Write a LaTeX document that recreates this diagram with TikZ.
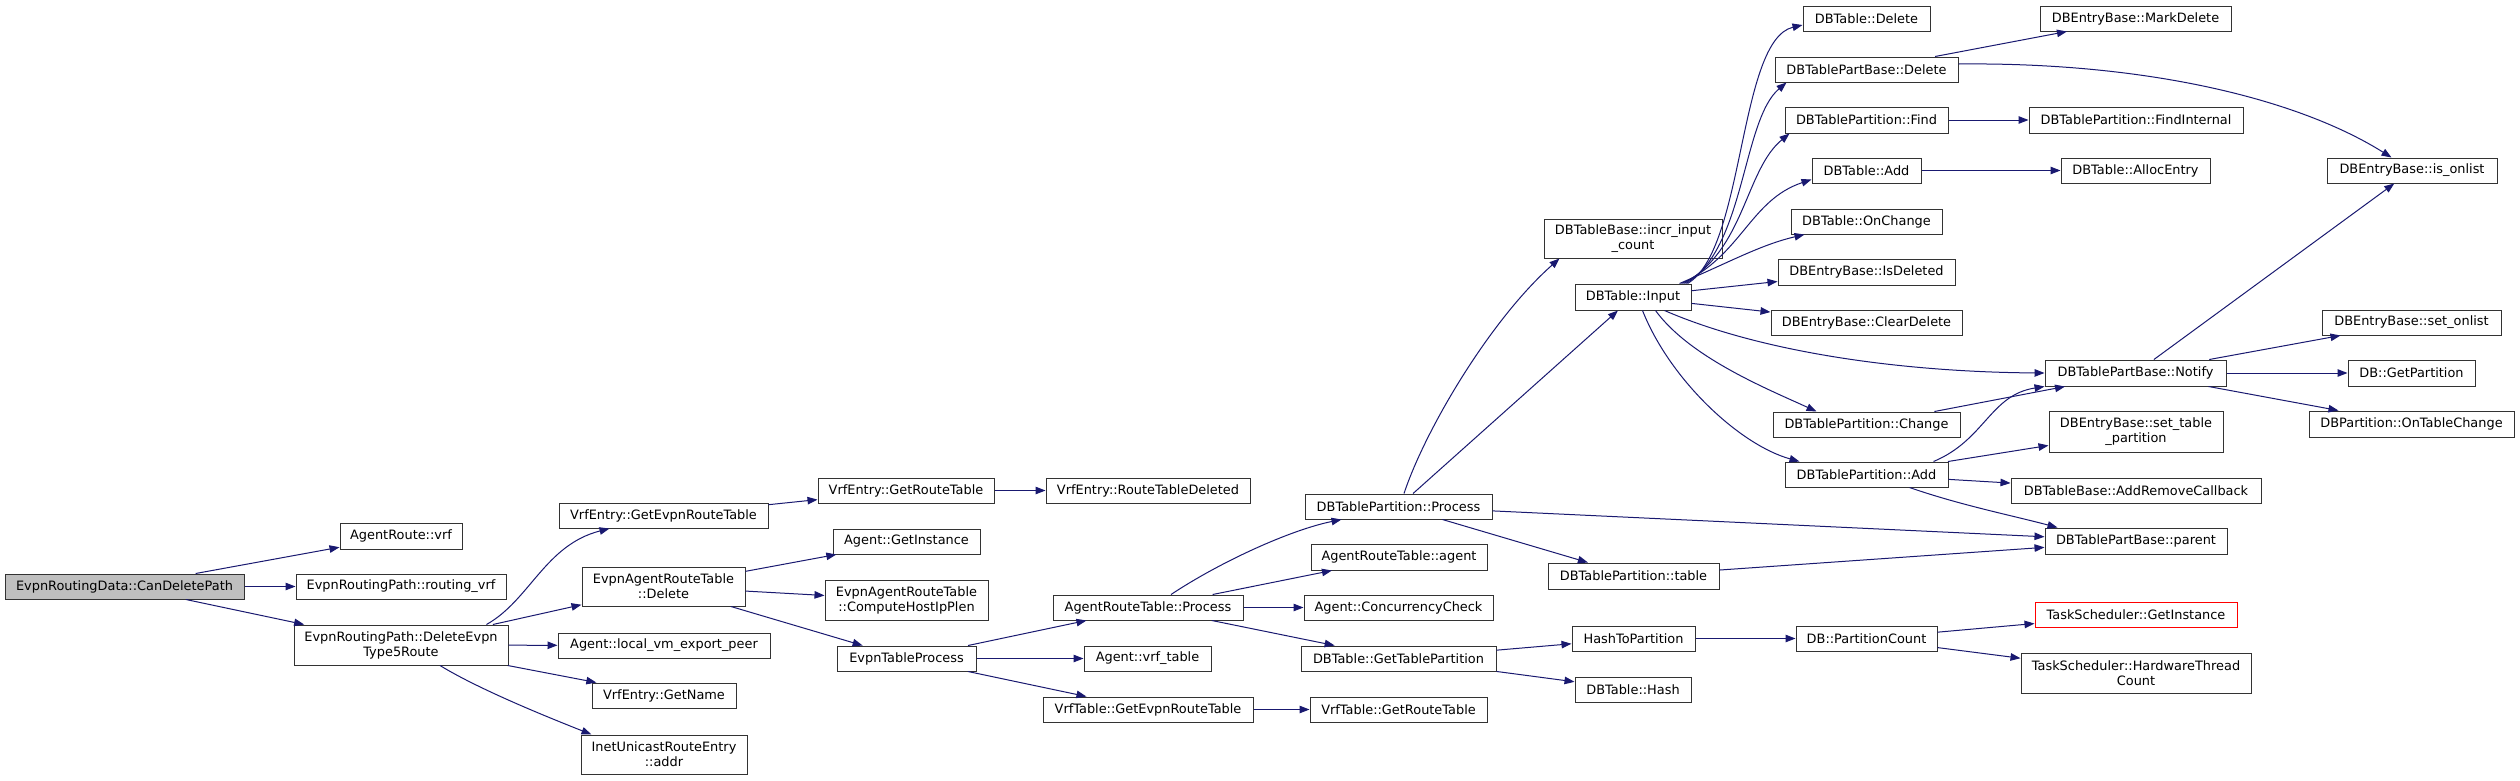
\documentclass[tikz,border=0pt]{standalone}
\usepackage{fontspec}
\setmainfont{DejaVu Sans}
\usetikzlibrary{arrows.meta,calc}
\definecolor{edgecol}{HTML}{191970}
\definecolor{boxcol}{HTML}{333333}
\tikzset{
  box/.style={draw=boxcol, line width=1pt, fill=white, inner sep=0pt, align=center,
    font=\fontsize{12.9}{15}\selectfont},
  conn/.style={draw=edgecol, line width=1pt, -{Triangle[length=10pt,width=7.5pt]}},
}
\newcommand\bx[7][]{\node[box,#1,minimum width={(#5-#3)*1pt},minimum height={(#6-#4)*1pt}] (#2) at ({(#3+#5)/2},{(#4+#6)/2}) {#7};}
\begin{document}
\begin{tikzpicture}[x=1pt,y=-1pt]
\fill[white] (0,0) rectangle (2520,780);
\useasboundingbox (0,0) rectangle (2520,780);
% column 0-1
\bx[fill=black!25]{c0}{5}{574}{244}{599}{EvpnRoutingData::CanDeletePath}
\bx{arv}{340}{523}{462}{549}{AgentRoute::vrf}
\bx{rvrf}{296}{574}{506}{599}{EvpnRoutingPath::routing\_vrf}
\bx{d5}{294}{625}{508}{665}{EvpnRoutingPath::DeleteEvpn\\Type5Route}
% column 2
\bx{vge}{559}{503}{768}{528}{VrfEntry::GetEvpnRouteTable}
\bx{ead}{582}{567}{745}{606}{EvpnAgentRouteTable\\::Delete}
\bx{lvm}{558}{633}{770}{658}{Agent::local\_vm\_export\_peer}
\bx{vgn}{592}{683}{736}{708}{VrfEntry::GetName}
\bx{inet}{581}{735}{747}{774}{InetUnicastRouteEntry\\::addr}
% column 3
\bx{vgr}{818}{478}{994}{503}{VrfEntry::GetRouteTable}
\bx{agi}{833}{529}{980}{554}{Agent::GetInstance}
\bx{chp}{825}{580}{988}{620}{EvpnAgentRouteTable\\::ComputeHostIpPlen}
\bx{etp}{837}{646}{976}{671}{EvpnTableProcess}
% column 4
\bx{vrtd}{1046}{478}{1250}{503}{VrfEntry::RouteTableDeleted}
\bx{arp}{1053}{595}{1243}{620}{AgentRouteTable::Process}
\bx{avt}{1084}{646}{1211}{671}{Agent::vrf\_table}
\bx{vtg}{1043}{697}{1253}{722}{VrfTable::GetEvpnRouteTable}
% column 5
\bx{dtpp}{1305}{494}{1492}{519}{DBTablePartition::Process}
\bx{arta}{1311}{544}{1487}{570}{AgentRouteTable::agent}
\bx{acc}{1304}{595}{1493}{620}{Agent::ConcurrencyCheck}
\bx{dgtp}{1301}{646}{1496}{671}{DBTable::GetTablePartition}
\bx{vtr}{1310}{697}{1487}{722}{VrfTable::GetRouteTable}
% column 6
\bx{incr}{1544}{219}{1722}{258}{DBTableBase::incr\_input\\\_count}
\bx{dti}{1575}{284}{1691}{310}{DBTable::Input}
\bx{tbl}{1548}{563}{1719}{589}{DBTablePartition::table}
\bx{h2p}{1572}{626}{1695}{651}{HashToPartition}
\bx{hash}{1575}{677}{1691}{702}{DBTable::Hash}
% column 7
\bx{dbdel}{1803}{6}{1930}{31}{DBTable::Delete}
\bx{dpbd}{1775}{57}{1958}{82}{DBTablePartBase::Delete}
\bx{find}{1785}{107}{1948}{133}{DBTablePartition::Find}
\bx{dbadd}{1812}{158}{1921}{183}{DBTable::Add}
\bx{onch}{1791}{209}{1942}{234}{DBTable::OnChange}
\bx{isdel}{1778}{259}{1955}{285}{DBEntryBase::IsDeleted}
\bx{clrdel}{1771}{310}{1962}{335}{DBEntryBase::ClearDelete}
\bx{dtpc}{1773}{412}{1960}{437}{DBTablePartition::Change}
\bx{dtpa}{1785}{462}{1948}{487}{DBTablePartition::Add}
\bx{dpc}{1796}{626}{1937}{651}{DB::PartitionCount}
% column 8
\bx{mdel}{2040}{6}{2231}{31}{DBEntryBase::MarkDelete}
\bx{fint}{2029}{107}{2243}{133}{DBTablePartition::FindInternal}
\bx{alloc}{2061}{158}{2210}{183}{DBTable::AllocEntry}
\bx{dpbn}{2045}{360}{2226}{386}{DBTablePartBase::Notify}
\bx{stp}{2049}{411}{2223}{452}{DBEntryBase::set\_table\\\_partition}
\bx{arc}{2011}{478}{2261}{503}{DBTableBase::AddRemoveCallback}
\bx{dpbp}{2045}{528}{2227}{554}{DBTablePartBase::parent}
\bx[draw=red]{tsgi}{2035}{602}{2237}{627}{TaskScheduler::GetInstance}
\bx{hwtc}{2021}{653}{2251}{693}{TaskScheduler::HardwareThread\\Count}
% column 9
\bx{deio}{2327}{158}{2497}{183}{DBEntryBase::is\_onlist}
\bx{seto}{2322}{310}{2501}{335}{DBEntryBase::set\_onlist}
\bx{dbgp}{2348}{360}{2475}{386}{DB::GetPartition}
\bx{dpotc}{2309}{411}{2514}{437}{DBPartition::OnTableChange}

% edges
\draw[conn] (c0) -- (arv);
\draw[conn] (c0) -- (rvrf);
\draw[conn] (c0) -- (d5);
\draw[conn] ($(d5.north east)+(-22,0)$) .. controls (530,600) and (545,545) .. ($(vge.south west)+(51,0)$);
\draw[conn] (d5) -- (ead);
\draw[conn] (d5) -- (lvm);
\draw[conn] (d5) -- (vgn);
\draw[conn] ($(d5.south)+(39,0)$) .. controls (480,690) and (550,718) .. ($(inet.north west)+(11,0)$);
\draw[conn] (vge) -- (vgr);
\draw[conn] (vgr) -- (vrtd);
\draw[conn] (ead) -- (agi);
\draw[conn] (ead) -- (chp);
\draw[conn] (ead) -- (etp);
\draw[conn] (etp) -- (arp);
\draw[conn] (etp) -- (avt);
\draw[conn] (etp) -- (vtg);
\draw[conn] (vtg) -- (vtr);
\draw[conn] ($(arp.north)+(23,0)$) .. controls (1220,562) and (1290,530) .. ($(dtpp.south west)+(37,0)$);
\draw[conn] (arp) -- (arta);
\draw[conn] (arp) -- (acc);
\draw[conn] (arp) -- (dgtp);
\draw[conn] (dgtp) -- (h2p);
\draw[conn] (dgtp) -- (hash);
\draw[conn] (h2p) -- (dpc);
\draw[conn] (dpc) -- (tsgi);
\draw[conn] (dpc) -- (hwtc);
\draw[conn] ($(dtpp.north)+(5.5,0)$) .. controls (1425,430) and (1490,320) .. ($(incr.south west)+(16,0)$);
\draw[conn] (dtpp) -- (dti);
\draw[conn] (dtpp) -- (tbl);
\draw[conn] (dtpp) -- (dpbp);
\draw[conn] (tbl) -- (dpbp);
% DBTable::Input fan
\draw[conn] ($(dti.north east)+(-4,0)$) .. controls (1745,250) and (1738,40) .. ($(dbdel.west)+(0,6.5)$);
\draw[conn] ($(dti.north east)+(-6,0)$) .. controls (1745,250) and (1742,120) .. ($(dpbd.south west)+(12,0)$);
\draw[conn] ($(dti.north east)+(-8,0)$) .. controls (1745,250) and (1745,170) .. ($(find.south west)+(5,0)$);
\draw[conn] ($(dti.north east)+(-10,0)$) .. controls (1742,255) and (1750,200) .. ($(dbadd.west)+(0,9)$);
\draw[conn] ($(dti.north east)+(-12,0)$) .. controls (1730,262) and (1760,245) .. ($(onch.south west)+(14,0)$);
\draw[conn] (dti) -- (isdel);
\draw[conn] (dti) -- (clrdel);
\draw[conn] ($(dti.south west)+(90,0)$) .. controls (1760,352) and (1900,372) .. (dpbn.west);
\draw[conn] ($(dti.south west)+(81,0)$) .. controls (1690,358) and (1770,390) .. ($(dtpc.north west)+(44,0)$);
\draw[conn] ($(dti.south west)+(68,0)$) .. controls (1670,380) and (1740,445) .. ($(dtpa.north west)+(15,0)$);
% right part
\draw[conn] (dpbd) -- (mdel);
\draw[conn] ($(dpbd.east)+(0,-5.5)$) .. controls (2150,62) and (2300,100) .. ($(deio.north west)+(65,0)$);
\draw[conn] (find) -- (fint);
\draw[conn] (dbadd) -- (alloc);
\draw[conn] (dtpc) -- (dpbn);
\draw[conn] ($(dtpa.north east)+(-15,0)$) .. controls (1985,440) and (1990,395) .. (dpbn.south west);
\draw[conn] (dtpa) -- (stp);
\draw[conn] (dtpa) -- (arc);
\draw[conn] ($(dtpa.south east)+(-39,0)$) .. controls (1960,505) and (2010,515) .. ($(dpbp.north west)+(13,0)$);
\draw[conn] (dpbn) -- (deio);
\draw[conn] (dpbn) -- (seto);
\draw[conn] (dpbn) -- (dbgp);
\draw[conn] (dpbn) -- (dpotc);
\end{tikzpicture}
\end{document}
